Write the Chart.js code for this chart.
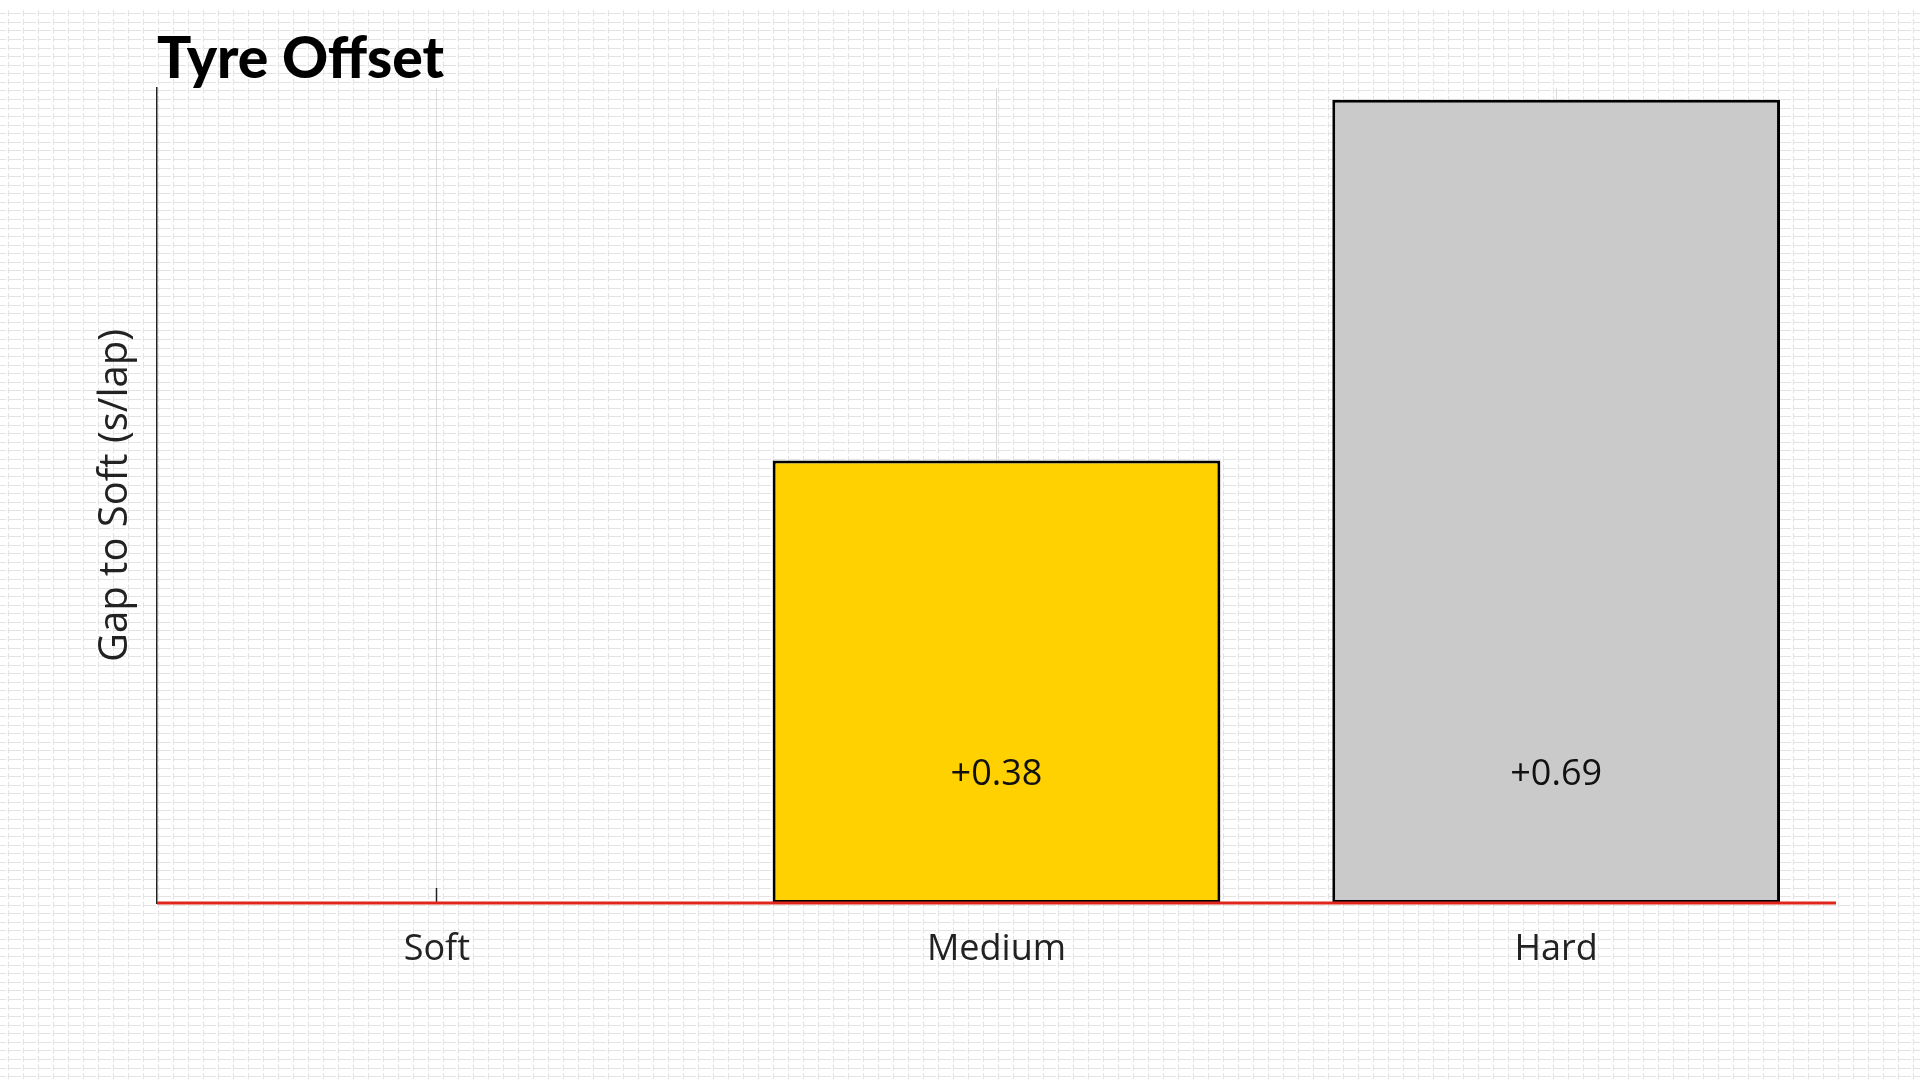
<!DOCTYPE html>
<html>
<head>
<meta charset="utf-8">
<title>Tyre Offset</title>
<script src="https://cdn.jsdelivr.net/npm/chart.js@4/dist/chart.umd.min.js"></script>
<style>
  html, body { margin: 0; padding: 0; background: #fff; }
  #wrap { width: 1920px; height: 1080px; }
</style>
</head>
<body>
<div id="wrap"><canvas id="tyreChart" width="1920" height="1080"></canvas></div>
<script>
// ===== Data =====
const compounds = ['Soft', 'Medium', 'Hard'];
const gapToSoft = [0, 0.38, 0.69];
const compoundColors = ['#da291c', '#ffd100', '#cacaca'];
const yRange = [0, 0.70];
const labelLevel = 0.11; // where the "+0.xx" labels sit (in s/lap)

const FONT = "'Open Sans', 'Noto Sans', sans-serif";

// ===== Background: light graph-paper crosses =====
const paperBg = {
  id: 'paperBg',
  beforeDraw(chart) {
    const ctx = chart.ctx;
    const w = chart.width, h = chart.height;
    const rowStep = 1080 / 126, colStep = 15;
    ctx.save();
    ctx.fillStyle = '#ffffff';
    ctx.fillRect(0, 0, w, h);
    ctx.strokeStyle = '#e3e3e3';
    ctx.lineWidth = 1.2;
    // horizontal dashes, gap half way between columns
    ctx.setLineDash([12, 3]);
    ctx.lineDashOffset = 0;
    for (let y = 13.3; y < h; y += rowStep) {
      ctx.beginPath();
      ctx.moveTo(-6, Math.round(y) + 0.5);
      ctx.lineTo(w, Math.round(y) + 0.5);
      ctx.stroke();
    }
    // vertical arms of the crosses
    ctx.setLineDash([6, rowStep - 6]);
    for (let x = 7.5; x < w; x += colStep) {
      ctx.beginPath();
      ctx.moveTo(Math.round(x) + 0.5, 13.3 - 3);
      ctx.lineTo(Math.round(x) + 0.5, h);
      ctx.stroke();
    }
    ctx.restore();
  }
};

// ===== Red zero line + value labels, drawn on top of the bars =====
const overlays = {
  id: 'overlays',
  afterDatasetsDraw(chart) {
    const ctx = chart.ctx;
    const { left, right } = chart.chartArea;
    const xScale = chart.scales.x, yScale = chart.scales.y;
    const y0 = yScale.getPixelForValue(0);

    ctx.save();
    ctx.strokeStyle = '#e0261b';
    ctx.lineWidth = 3;
    ctx.beginPath();
    ctx.moveTo(left, y0);
    ctx.lineTo(right, y0);
    ctx.stroke();

    ctx.fillStyle = '#111';
    ctx.font = '36px ' + FONT;
    ctx.textAlign = 'center';
    ctx.textBaseline = 'middle';
    const ly = yScale.getPixelForValue(labelLevel);
    gapToSoft.forEach((v, i) => {
      if (v === 0) return;
      ctx.fillText('+' + v.toFixed(2), xScale.getPixelForValue(i), ly);
    });
    ctx.restore();
  }
};

new Chart(document.getElementById('tyreChart'), {
  type: 'bar',
  data: {
    labels: compounds,
    datasets: [{
      data: gapToSoft,
      backgroundColor: compoundColors,
      borderColor: '#000',
      borderWidth: 3,
      borderSkipped: false,
      categoryPercentage: 0.8,
      barPercentage: 1.0
    }]
  },
  options: {
    responsive: false,
    animation: false,
    layout: { padding: { left: 0, right: 84, top: 0, bottom: 0 } },
    plugins: {
      legend: { display: false },
      tooltip: { enabled: false },
      title: {
        display: true,
        text: 'Tyre Offset',
        align: 'start',
        fullSize: false,
        color: '#000',
        font: { family: "Lato, 'DejaVu Sans', sans-serif", size: 57, weight: '900', lineHeight: 1 },
        padding: { top: 31, bottom: 0 }
      }
    },
    scales: {
      x: {
        grid: {
          offset: false,
          color: '#dadada',
          lineWidth: 1,
          drawTicks: true,
          tickLength: -15,
          tickColor: '#222',
          tickWidth: 1.5
        },
        border: { display: false },
        ticks: {
          color: '#222',
          padding: 40,
          font: { family: FONT, size: 36 }
        },
        afterFit(scale) { scale.height = 177; }
      },
      y: {
        min: yRange[0],
        max: yRange[1],
        grid: { display: false, drawTicks: false },
        border: { display: true, color: '#222', width: 1.5 },
        ticks: { display: false },
        title: {
          display: true,
          text: 'Gap to Soft (s/lap)',
          color: '#222',
          font: { family: FONT, size: 40 },
          padding: { top: 92, bottom: 0 }
        },
        afterFit(scale) { scale.width = 157; }
      }
    }
  },
  plugins: [paperBg, overlays]
});
</script>
</body>
</html>
